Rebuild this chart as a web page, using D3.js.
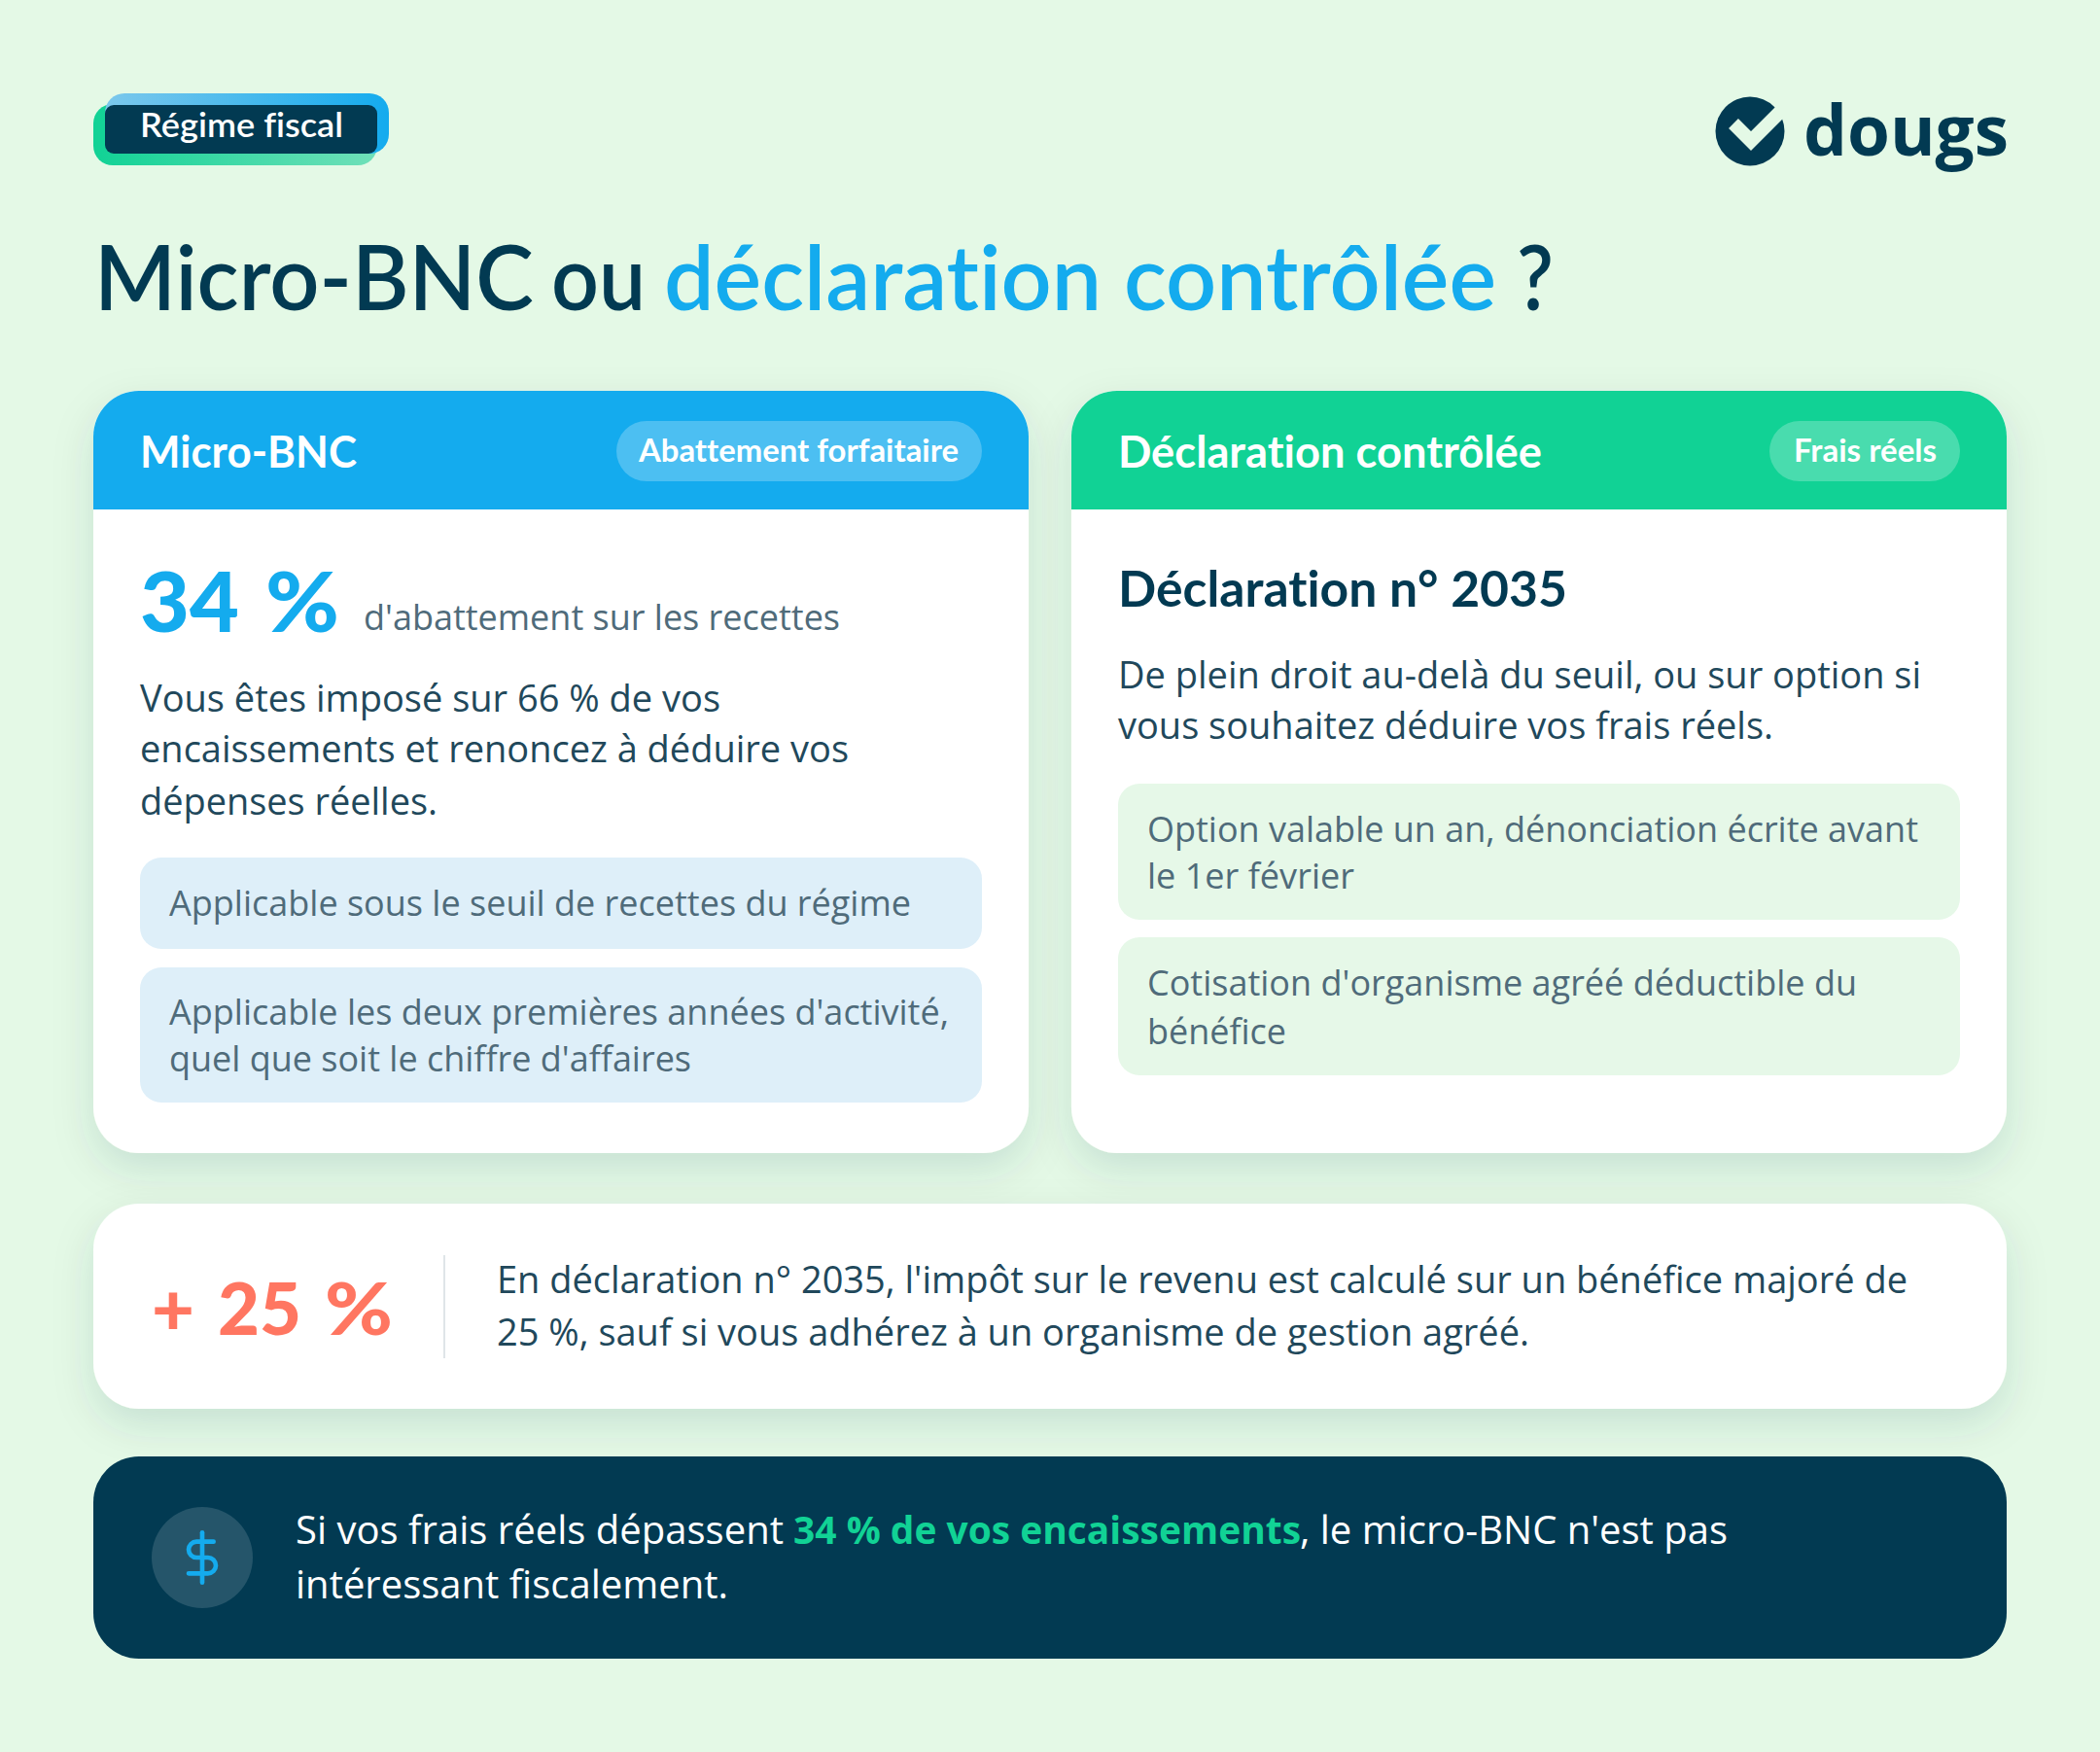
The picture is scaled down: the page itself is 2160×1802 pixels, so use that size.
<!DOCTYPE html>
<html lang="fr">
<head>
<meta charset="utf-8">
<title>Micro-BNC ou déclaration contrôlée ?</title>
<script src="https://cdn.jsdelivr.net/npm/d3@7"></script>
<style>
  html, body { margin: 0; padding: 0; background: #e4f9e6; }
  svg { display: block; }
  text { font-variant-ligatures: none; }
</style>
</head>
<body>
<div id="chart"></div>
<script>
// content
const badgeLabel = "Régime fiscal";
const brandName = "dougs";
const titleRuns = ["Micro-BNC", "ou", "déclaration contrôlée", "?"];
const columnNames = ["Micro-BNC", "Déclaration contrôlée"];
const columnTags = ["Abattement forfaitaire", "Frais réels"];
const keyRate = ["34", "%"];
const keyRateCaption = "d'abattement sur les recettes";
const microBody = ["Vous êtes imposé sur 66 % de vos", "encaissements et renoncez à déduire vos", "dépenses réelles."];
const microNotes = [
    ["Applicable sous le seuil de recettes du régime"],
    ["Applicable les deux premières années d'activité,", "quel que soit le chiffre d'affaires"]
];
const reelHeading = "Déclaration n° 2035";
const reelBody = ["De plein droit au-delà du seuil, ou sur option si", "vous souhaitez déduire vos frais réels."];
const reelNotes = [
    ["Option valable un an, dénonciation écrite avant", "le 1er février"],
    ["Cotisation d'organisme agréé déductible du", "bénéfice"]
];
const surchargeRate = ["+", "25", "%"];
const surchargeText = [
    "En déclaration n° 2035, l'impôt sur le revenu est calculé sur un bénéfice majoré de",
    "25 %, sauf si vous adhérez à un organisme de gestion agréé."
];
const verdictRuns = ["Si vos frais réels dépassent", "34 % de vos encaissements", ", le micro-BNC n'est pas"];
const verdictLine2 = "intéressant fiscalement.";

const width = 2160, height = 1802;
const navy = "#023a52", ink = "#21485b", blue = "#14abee", green = "#11d295", coral = "#ff7661", slate = "#4f6b7a";
const headFont = "Lato, sans-serif", bodyFont = "'Open Sans', sans-serif";

const svg = d3.select("#chart").append("svg")
    .attr("width", width)
    .attr("height", height)
    .attr("viewBox", `0 0 ${width} ${height}`);

svg.append("rect").attr("width", width).attr("height", height).attr("fill", "#e4f9e6");

const defs = svg.append("defs");

const shadow = defs.append("filter").attr("id", "soft")
    .attr("x", "-10%").attr("y", "-15%").attr("width", "120%").attr("height", "140%");
shadow.append("feDropShadow")
    .attr("dx", 0).attr("dy", 16).attr("stdDeviation", 20)
    .attr("flood-color", "#02405a").attr("flood-opacity", 0.13);

function gradient(id, from, to) {
    const g = defs.append("linearGradient").attr("id", id);
    g.append("stop").attr("offset", "0%").attr("stop-color", from);
    g.append("stop").attr("offset", "100%").attr("stop-color", to);
}
gradient("badgeBlue", "#7cc8ec", "#14abee");
gradient("badgeGreen", "#11d295", "#70e0b9");

// text helper, fit is the width the run takes in the picture
function label(parent, x, y, str, o) {
    const t = parent.append("text")
        .attr("x", x).attr("y", y)
        .attr("font-family", o.font || bodyFont)
        .attr("font-size", o.size)
        .attr("font-weight", o.weight || 400)
        .attr("fill", o.fill || ink)
        .text(str);
    if (o.fit) t.attr("textLength", o.fit).attr("lengthAdjust", "spacingAndGlyphs");
    return t;
}

function box(parent, x, y, w, h, r, fill) {
    return parent.append("rect")
        .attr("x", x).attr("y", y).attr("width", w).attr("height", h)
        .attr("rx", r).attr("ry", r).attr("fill", fill);
}

// badge
box(svg, 96, 107, 292, 63, 20, "url(#badgeGreen)");
box(svg, 108, 96, 292, 62, 20, "url(#badgeBlue)");
box(svg, 108, 108, 280, 50, 9, navy);
label(svg, 144, 141, badgeLabel, {font: headFont, size: 35, weight: 600, fill: "#fff", fit: 209});

// logo
svg.append("circle").attr("cx", 1800).attr("cy", 135).attr("r", 35.5).attr("fill", navy);
svg.append("path")
    .attr("d", d3.line()([[1783, 127], [1801, 145], [1837, 109]]))
    .attr("fill", "none").attr("stroke", "#e4f9e6").attr("stroke-width", 14);
label(svg, 1855, 159.5, brandName, {size: 72, weight: 700, fill: navy, fit: 211});

// title
const titleX = [97, 567, 683, 1560], titleFit = [452, 97, 856, 38];
const titleFill = [navy, navy, blue, navy];
titleRuns.forEach((run, i) => {
    label(svg, titleX[i], 319, run, {font: headFont, size: 92, weight: 600, fill: titleFill[i], fit: titleFit[i]});
});

// two columns
const col = d3.scaleBand().domain(columnNames).range([96, 2064]).paddingInner(0.0437);
const cardTop = 402, cardBottom = 1186, headBottom = 524, cardR = 47;
const headFill = [blue, green];
const tagX = [634, 1820], tagW = [376, 196], tagTextX = [657, 1845], tagFit = [329, 147], nameFit = [223, 436];

columnNames.forEach((name, i) => {
    const x = col(name), w = col.bandwidth();
    const g = svg.append("g");
    box(g, x, cardTop, w, cardBottom - cardTop, cardR, "#fff").attr("filter", "url(#soft)");
    const p = d3.path();
    p.moveTo(x, headBottom);
    p.lineTo(x, cardTop + cardR);
    p.arcTo(x, cardTop, x + cardR, cardTop, cardR);
    p.lineTo(x + w - cardR, cardTop);
    p.arcTo(x + w, cardTop, x + w, cardTop + cardR, cardR);
    p.lineTo(x + w, headBottom);
    p.closePath();
    g.append("path").attr("d", p.toString()).attr("fill", headFill[i]);
    label(g, x + 48, 481, name, {font: headFont, size: 46, weight: 700, fill: "#fff", fit: nameFit[i]});
    box(g, tagX[i], 433, tagW[i], 62, 31, "#fff").attr("fill-opacity", 0.24);
    label(g, tagTextX[i], 475, columnTags[i], {font: headFont, size: 32, weight: 700, fill: "#fff", fit: tagFit[i]});
});

// left card
const keyRateX = [144, 273], keyRateFit = [102, 76];
keyRate.forEach((run, i) => {
    label(svg, keyRateX[i], 650, run, {font: headFont, size: 86, weight: 900, fill: blue, fit: keyRateFit[i]});
});
label(svg, 374, 648, keyRateCaption, {size: 36, fill: slate, fit: 490});
const microBodyY = [732, 784, 838], microBodyFit = [597, 729, 306];
microBody.forEach((line, i) => label(svg, 144, microBodyY[i], line, {size: 38, fit: microBodyFit[i]}));

const microNoteBox = [[882, 94], [995, 139]];
const microNoteY = [[942], [1054, 1102]], microNoteFit = [[763], [802, 537]];
microNotes.forEach((lines, i) => {
    box(svg, 144, microNoteBox[i][0], 866, microNoteBox[i][1], 22, "#deeff9");
    lines.forEach((line, j) => label(svg, 174, microNoteY[i][j], line, {size: 36, fill: slate, fit: microNoteFit[i][j]}));
});

// right card
label(svg, 1150, 624, reelHeading, {font: headFont, size: 52, weight: 700, fill: navy, fit: 462});
const reelBodyY = [708, 760], reelBodyFit = [826, 674];
reelBody.forEach((line, i) => label(svg, 1150, reelBodyY[i], line, {size: 38, fit: reelBodyFit[i]}));

const reelNoteBox = [[806, 140], [964, 142]];
const reelNoteY = [[866, 914], [1024, 1074]], reelNoteFit = [[793, 213], [730, 143]];
reelNotes.forEach((lines, i) => {
    box(svg, 1150, reelNoteBox[i][0], 866, reelNoteBox[i][1], 22, "#e6f8e8");
    lines.forEach((line, j) => label(svg, 1180, reelNoteY[i][j], line, {size: 36, fill: slate, fit: reelNoteFit[i][j]}));
});

// surcharge band
box(svg, 96, 1238, 1968, 211, 47, "#fff").attr("filter", "url(#soft)");
const surchargeX = [156, 224, 334], surchargeFit2 = [44, 86, 70];
surchargeRate.forEach((run, i) => {
    label(svg, surchargeX[i], 1373, run, {font: headFont, size: 74, weight: 900, fill: coral, fit: surchargeFit2[i]});
});
svg.append("line").attr("x1", 457).attr("x2", 457).attr("y1", 1291).attr("y2", 1397)
    .attr("stroke", "#dfe5e8").attr("stroke-width", 2);
const surchargeY = [1330, 1384], surchargeFit = [1451, 1062];
surchargeText.forEach((line, i) => label(svg, 511, surchargeY[i], line, {size: 39, fit: surchargeFit[i]}));

// verdict band
box(svg, 96, 1498, 1968, 208, 47, navy);
svg.append("circle").attr("cx", 208).attr("cy", 1602).attr("r", 52).attr("fill", "#fff").attr("fill-opacity", 0.14);
svg.append("g")
    .attr("transform", "translate(208,1602) scale(2.33) translate(-12,-12)")
    .attr("fill", "none").attr("stroke", blue).attr("stroke-width", 2).attr("stroke-linecap", "round")
    .call(g => {
        g.append("line").attr("x1", 12).attr("x2", 12).attr("y1", 1).attr("y2", 23);
        g.append("path").attr("d", "M17 5H9.5a3.5 3.5 0 0 0 0 7h5a3.5 3.5 0 0 1 0 7H6");
    });
const verdictX = [304, 816, 1337], verdictFit = [502, 522, 440];
const verdictFill = ["#fff", green, "#fff"], verdictWeight = [400, 700, 400];
verdictRuns.forEach((run, i) => {
    label(svg, verdictX[i], 1588, run, {size: 39.5, fill: verdictFill[i], weight: verdictWeight[i], fit: verdictFit[i]});
});
label(svg, 304, 1644, verdictLine2, {size: 39.5, fill: "#fff", fit: 445});
</script>
</body>
</html>
